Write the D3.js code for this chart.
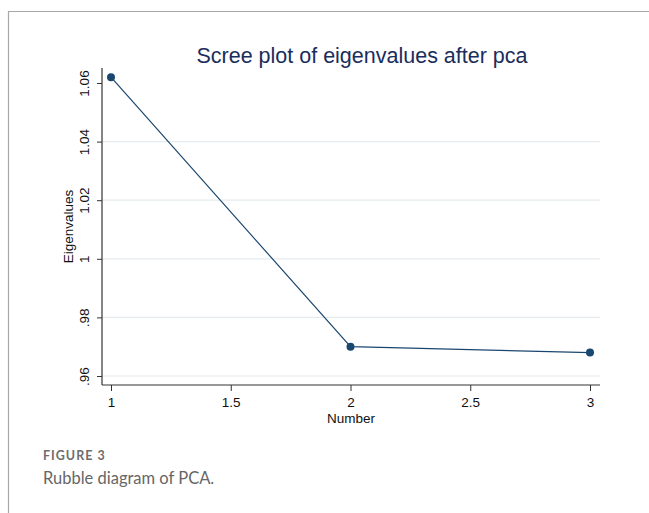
<!DOCTYPE html>
<html>
<head>
<meta charset="utf-8">
<script src="https://cdn.jsdelivr.net/npm/d3@7"></script>
<style>
  body { margin: 0; background: #fff; }
  svg text { font-family: "Liberation Sans", Arial, sans-serif; }
</style>
</head>
<body>
<div id="chart-container"></div>
<script>
// Data
const components = [1, 2, 3];
const eigenvalues = [1.062, 0.970, 0.968];
const yTicks = [0.96, 0.98, 1.00, 1.02, 1.04, 1.06];
const yTickLabels = [".96", ".98", "1", "1.02", "1.04", "1.06"];
const xTicks = [1, 1.5, 2, 2.5, 3];

const W = 649, H = 513;

const svg = d3.select("#chart-container")
  .append("svg")
  .attr("width", W)
  .attr("height", H);

// page frame (top + left rule)
svg.append("path")
  .attr("d", `M8.5,${H} V11.5 H${W}`)
  .attr("fill", "none")
  .attr("stroke", "#a8a8a8")
  .attr("stroke-width", 1.2);

// plot region
const plot = { left: 102, right: 600, top: 68, bottom: 385 };

const x = d3.scaleLinear().domain([1, 3]).range([111, 590]);
const y = d3.scaleLinear().domain([0.96, 1.06]).range([376, 83]);

// gridlines (Stata skips the one at the top)
svg.append("g")
  .selectAll("line")
  .data(yTicks.filter(d => d < 1.059))
  .join("line")
  .attr("x1", plot.left)
  .attr("x2", plot.right)
  .attr("y1", d => y(d))
  .attr("y2", d => y(d))
  .attr("stroke", "#e4ecef")
  .attr("stroke-width", 1.2);

// y axis
const yAxis = svg.append("g")
  .attr("transform", `translate(${plot.left},0)`)
  .call(d3.axisLeft(y)
    .tickValues(yTicks)
    .tickFormat((d, i) => yTickLabels[i])
    .tickSize(5));
yAxis.select(".domain").remove();
yAxis.selectAll(".tick line").attr("stroke", "#333");
yAxis.selectAll(".tick text")
  .attr("font-size", 13.5)
  .attr("fill", "#111")
  .attr("text-anchor", "middle")
  .attr("x", null)
  .attr("dy", null)
  .attr("transform", "translate(-17,0) rotate(-90)")
  .attr("dominant-baseline", "middle");

svg.append("line")
  .attr("x1", plot.left).attr("x2", plot.left)
  .attr("y1", plot.top).attr("y2", plot.bottom)
  .attr("stroke", "#333").attr("stroke-width", 1.2);

// x axis
const xAxis = svg.append("g")
  .attr("transform", `translate(0,${plot.bottom})`)
  .call(d3.axisBottom(x)
    .tickValues(xTicks)
    .tickFormat(d3.format("~g"))
    .tickSize(6)
    .tickPadding(6));
xAxis.select(".domain").remove();
xAxis.selectAll(".tick line").attr("stroke", "#333");
xAxis.selectAll(".tick text")
  .attr("font-size", 13.5)
  .attr("fill", "#111");

svg.append("line")
  .attr("x1", plot.left).attr("x2", plot.right)
  .attr("y1", plot.bottom).attr("y2", plot.bottom)
  .attr("stroke", "#333").attr("stroke-width", 1.2);

// axis titles
svg.append("text")
  .attr("x", (plot.left + plot.right) / 2)
  .attr("y", 423)
  .attr("text-anchor", "middle")
  .attr("font-size", 13.5)
  .attr("fill", "#111")
  .text("Number");

svg.append("text")
  .attr("transform", `translate(69,${(plot.top + plot.bottom) / 2}) rotate(-90)`)
  .attr("text-anchor", "middle")
  .attr("dominant-baseline", "middle")
  .attr("font-size", 13.5)
  .attr("fill", "#111")
  .text("Eigenvalues");

// title
svg.append("text")
  .attr("x", 362)
  .attr("y", 63)
  .attr("text-anchor", "middle")
  .attr("font-size", 21.5)
  .attr("fill", "#1a2d5c")
  .text("Scree plot of eigenvalues after pca");

// line + points
const data = components.map((c, i) => ({ c, v: eigenvalues[i] }));

svg.append("path")
  .datum(data)
  .attr("fill", "none")
  .attr("stroke", "#1a476f")
  .attr("stroke-width", 1.2)
  .attr("d", d3.line().x(d => x(d.c)).y(d => y(d.v)));

svg.append("g")
  .selectAll("circle")
  .data(data)
  .join("circle")
  .attr("cx", d => x(d.c))
  .attr("cy", d => y(d.v))
  .attr("r", 4)
  .attr("fill", "#1a476f");

// caption
svg.append("text")
  .attr("x", 43)
  .attr("y", 460)
  .attr("font-size", 12.5)
  .attr("font-weight", "bold")
  .attr("letter-spacing", 1)
  .attr("fill", "#6d6d6d")
  .style("font-family", "Lato, 'Open Sans', sans-serif")
  .text("FIGURE 3");

svg.append("text")
  .attr("x", 43)
  .attr("y", 484)
  .attr("font-size", 16.5)
  .attr("fill", "#666")
  .style("font-family", "Lato, 'Open Sans', sans-serif")
  .text("Rubble diagram of PCA.");
</script>
</body>
</html>
